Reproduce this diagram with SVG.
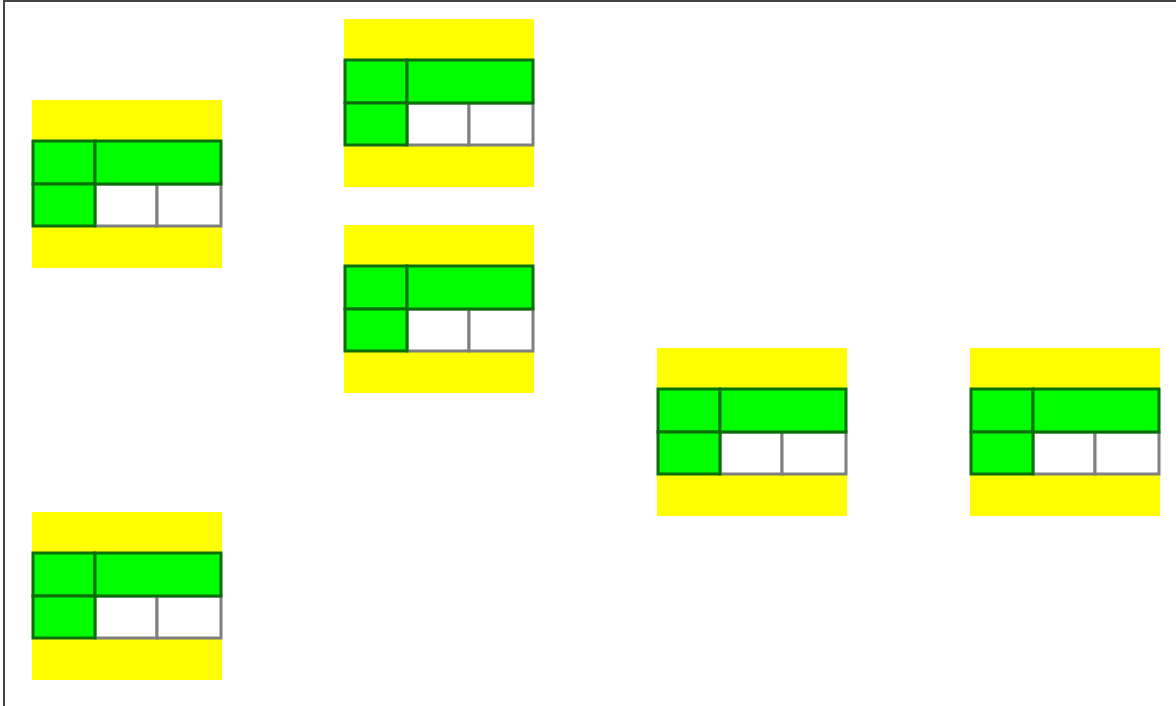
<svg xmlns="http://www.w3.org/2000/svg" width="1176" height="706" viewBox="0 0 1176 706">
<defs>
<style>
.band{fill:#ffff00}
.g{fill:#00ff00;stroke:#0a6e0a;stroke-width:3}
.w{fill:#ffffff;stroke:#7f7f7f;stroke-width:3}
.page{fill:none;stroke:#444444;stroke-width:2}
</style>
<g id="cell">
<rect class="band" x="0" y="0" width="190" height="168"/>
<rect class="w" x="63" y="84" width="62" height="42"/>
<rect class="w" x="125" y="84" width="64" height="42"/>
<rect class="g" x="1" y="41" width="62" height="43"/>
<rect class="g" x="1" y="84" width="62" height="42"/>
<rect class="g" x="63" y="41" width="126" height="43"/>
</g>
</defs>
<rect x="0" y="0" width="1176" height="706" fill="#ffffff"/>
<rect class="page" x="4" y="1" width="1200" height="720"/>
<g id="node1"><use href="#cell" x="32" y="100"/></g>
<g id="node2"><use href="#cell" x="344" y="19"/></g>
<g id="node3"><use href="#cell" x="344" y="225"/></g>
<g id="node4"><use href="#cell" x="657" y="348"/></g>
<g id="node5"><use href="#cell" x="970" y="348"/></g>
<g id="node6"><use href="#cell" x="32" y="512"/></g>
<g id="connectors"></g>
</svg>
